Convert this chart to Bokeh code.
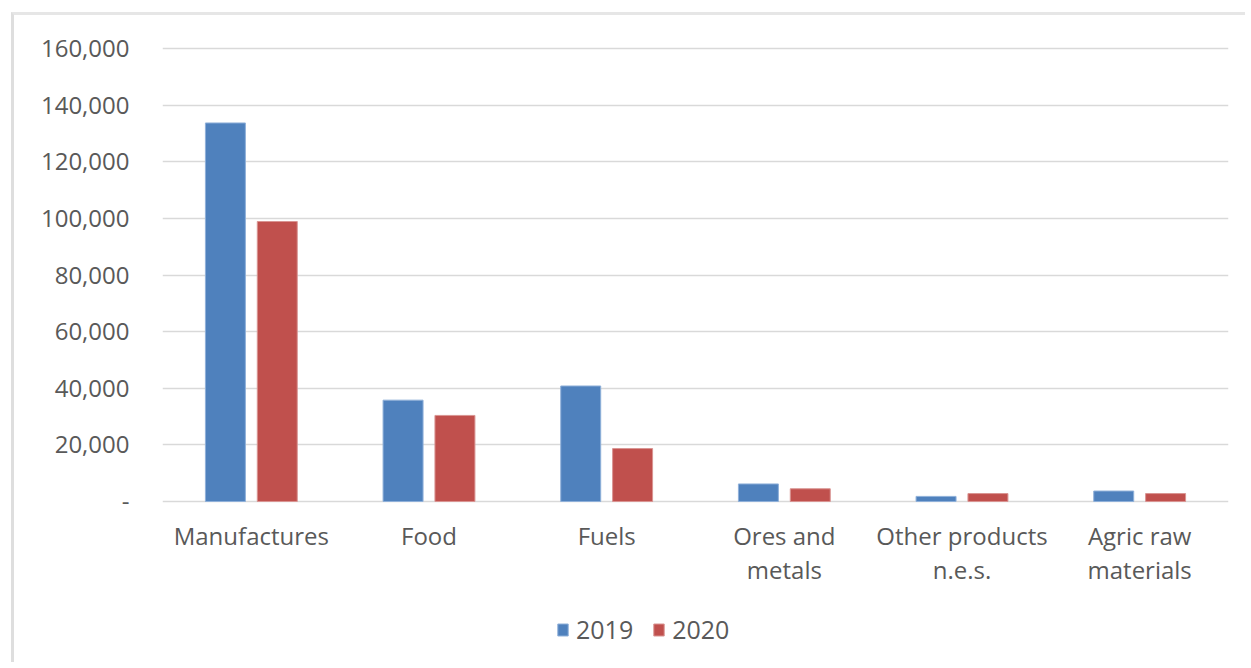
from bokeh.plotting import figure
from bokeh.models import FixedTicker, Legend, LegendItem, ColumnDataSource, Range1d
from bokeh.core.properties import value
from bokeh.embed import file_html
from bokeh.resources import INLINE

categories = ["Manufactures", "Food", "Fuels", "Ores and\nmetals", "Other products\nn.e.s.", "Agric raw\nmaterials"]
values_2019 = [133700, 35800, 40800, 6200, 1800, 3700]
values_2020 = [98900, 30400, 18700, 4500, 2800, 2800]
series_names = ["2019", "2020"]
series_colors = ["#4F81BD", "#C0504D"]
y_ticks = [0, 20000, 40000, 60000, 80000, 100000, 120000, 140000, 160000]
y_tick_labels = ["-", "20,000", "40,000", "60,000", "80,000", "100,000", "120,000", "140,000", "160,000"]

FONT = "Open Sans"
TXT = "#595959"

H = 650
TOP = 31
BOT = 8
frame_h = H - TOP - BOT
px_per_unit = 453 / 160000.0          # 160,000 spans 453 px
y_top = 455 / px_per_unit              # frame top a little above 160,000
y_bot = y_top - frame_h / px_per_unit  # frame extends below zero for labels & legend

p = figure(width=1234, height=H, output_backend="svg", toolbar_location=None,
           x_range=Range1d(0, len(categories)), y_range=Range1d(y_bot, y_top),
           min_border_left=148, min_border_right=20, min_border_top=TOP, min_border_bottom=BOT)
p.styles = {"border-left": "3px solid #dedede", "border-top": "3px solid #e6e6e6",
            "margin-left": "11px", "margin-top": "12px"}
p.outline_line_color = None
p.background_fill_color = "white"
p.border_fill_color = "white"

centers = [i + 0.5 for i in range(len(categories))]
off = 0.146
bw = 0.225
src1 = ColumnDataSource(dict(x=[c - off for c in centers], top=values_2019))
src2 = ColumnDataSource(dict(x=[c + off for c in centers], top=values_2020))
r1 = p.vbar(x="x", top="top", bottom=0, width=bw, source=src1, fill_color=series_colors[0], line_color="#8fb0d9", line_width=1)
r2 = p.vbar(x="x", top="top", bottom=0, width=bw, source=src2, fill_color=series_colors[1], line_color="#d99492", line_width=1)

# category labels
lab = ColumnDataSource(dict(x=centers, y=[0] * len(categories), text=categories))
p.text(x="x", y="y", text="text", source=lab, text_align="center", text_baseline="top",
       y_offset=17, text_font=value(FONT), text_font_size="24px", text_color=TXT,
       text_line_height=1.06)

# y axis
p.yaxis.ticker = FixedTicker(ticks=y_ticks)
p.yaxis.major_label_overrides = {t: l for t, l in zip(y_ticks, y_tick_labels)}
p.yaxis.axis_line_color = None
p.yaxis.major_tick_line_color = None
p.yaxis.minor_tick_line_color = None
p.yaxis.major_label_standoff = 27
p.yaxis.major_label_text_font = FONT
p.yaxis.major_label_text_font_size = "24px"
p.yaxis.major_label_text_color = TXT

p.xaxis.visible = False
p.xgrid.grid_line_color = None
p.ygrid.grid_line_color = "#d9d9d9"
p.ygrid.grid_line_width = 1.5

legend = Legend(items=[LegendItem(label=series_names[0], renderers=[r1]),
                       LegendItem(label=series_names[1], renderers=[r2])],
                orientation="horizontal", location=(394, 11),
                border_line_color=None, background_fill_alpha=0,
                label_text_font=FONT, label_text_font_size="25px", label_text_color=TXT,
                glyph_width=13, glyph_height=15, spacing=19, label_standoff=7, padding=4,
                margin=0)
p.add_layout(legend, "center")

open("out.html", "w").write(file_html(p, INLINE))
